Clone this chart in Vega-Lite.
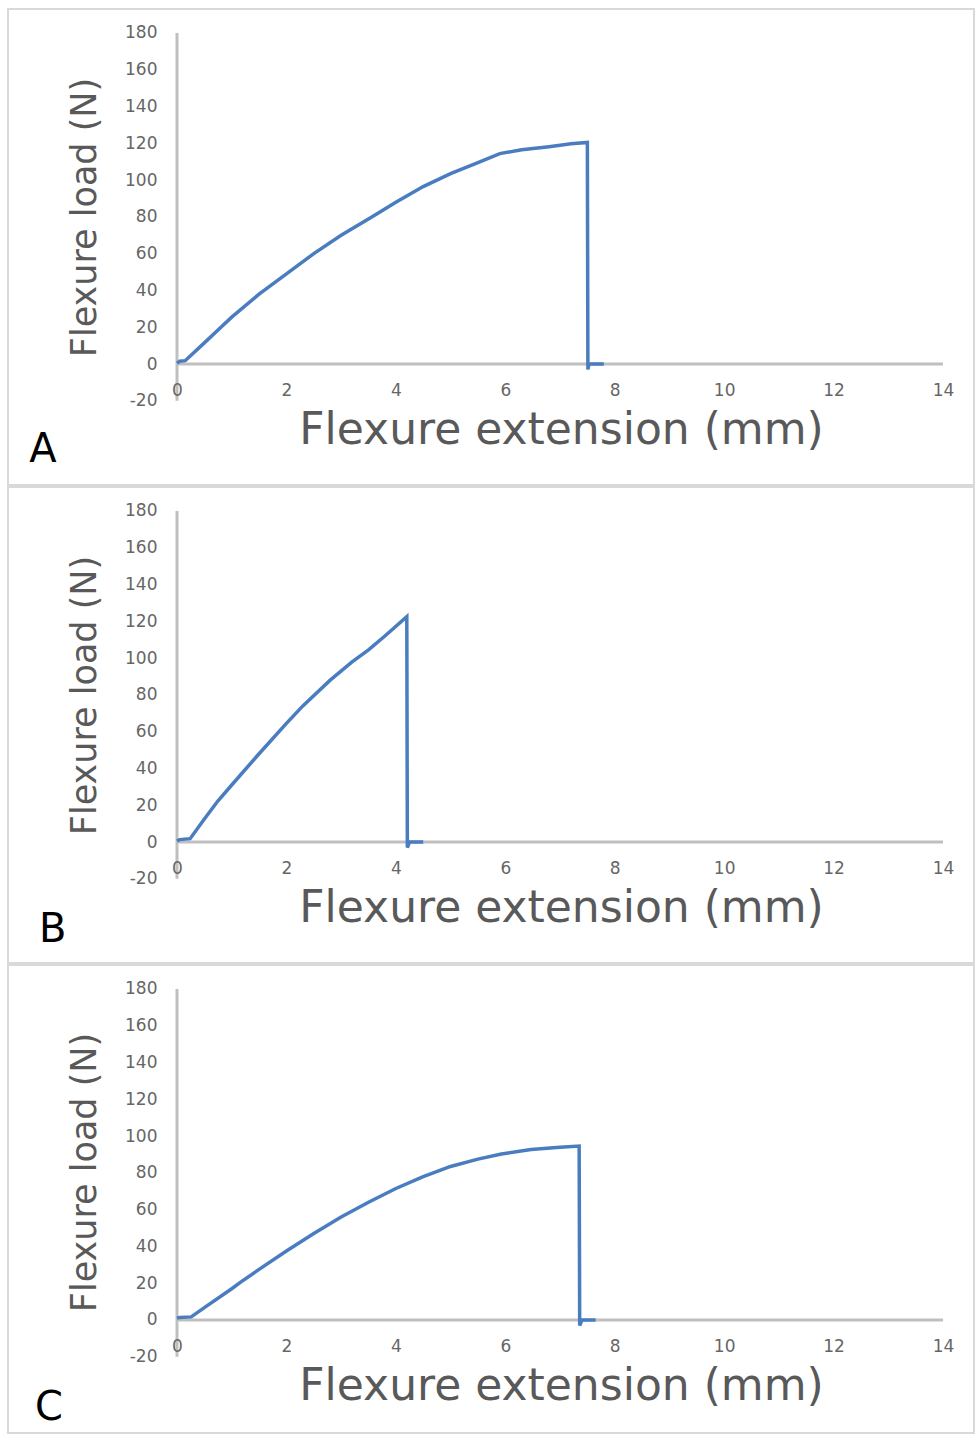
{
  "$schema": "https://vega.github.io/schema/vega-lite/v6.json",
  "background": "white",
  "padding": {"left": 7, "top": 8, "right": 0, "bottom": 0},
  "autosize": {"type": "pad"},
  "spacing": 0,
  "resolve": {"scale": {"x": "independent", "y": "independent"}, "axis": {"x": "independent", "y": "independent"}},
  "config": {
    "view": {"stroke": "#d9d9d9", "strokeWidth": 2, "fill": "white"},
    "axis": {"grid": false, "ticks": false, "domain": false, "labelFont": "DejaVu Sans", "labelFontSize": 17, "labelColor": "#666666", "titleFont": "DejaVu Sans", "titleColor": "#595959", "titleFontWeight": "normal", "labelExpr": "datum.value + ''"}
  },
  "datasets": {
    "A": [
      {"i": 0, "extension": 0, "load": 0.5},
      {"i": 1, "extension": 0.05, "load": 1.5},
      {"i": 2, "extension": 0.15, "load": 1.8},
      {"i": 3, "extension": 0.5, "load": 11.5},
      {"i": 4, "extension": 0.73, "load": 18},
      {"i": 5, "extension": 1.0, "load": 25.5},
      {"i": 6, "extension": 1.5, "load": 38},
      {"i": 7, "extension": 2.0, "load": 49},
      {"i": 8, "extension": 2.5, "load": 60},
      {"i": 9, "extension": 3.0, "load": 70},
      {"i": 10, "extension": 3.56, "load": 80},
      {"i": 11, "extension": 4.0, "load": 88},
      {"i": 12, "extension": 4.5, "load": 96.5},
      {"i": 13, "extension": 5.0, "load": 103.5},
      {"i": 14, "extension": 5.5, "load": 109.5},
      {"i": 15, "extension": 5.9, "load": 114.4},
      {"i": 16, "extension": 6.3, "load": 116.5},
      {"i": 17, "extension": 6.8, "load": 118.2},
      {"i": 18, "extension": 7.2, "load": 119.8},
      {"i": 19, "extension": 7.5, "load": 120.5},
      {"i": 20, "extension": 7.51, "load": -3},
      {"i": 21, "extension": 7.53, "load": 0},
      {"i": 22, "extension": 7.8, "load": 0}
    ],
    "B": [
      {"i": 0, "extension": 0, "load": 0.5},
      {"i": 1, "extension": 0.05, "load": 1.3},
      {"i": 2, "extension": 0.24, "load": 1.8},
      {"i": 3, "extension": 0.5, "load": 12.5},
      {"i": 4, "extension": 0.75, "load": 22.4},
      {"i": 5, "extension": 1.0, "load": 31},
      {"i": 6, "extension": 1.5, "load": 48},
      {"i": 7, "extension": 2.0, "load": 64.5},
      {"i": 8, "extension": 2.3, "load": 74},
      {"i": 9, "extension": 2.8, "load": 88},
      {"i": 10, "extension": 3.2, "load": 98},
      {"i": 11, "extension": 3.5, "load": 104.5},
      {"i": 12, "extension": 3.8, "load": 112},
      {"i": 13, "extension": 4.2, "load": 122.5},
      {"i": 14, "extension": 4.21, "load": -3},
      {"i": 15, "extension": 4.25, "load": 0},
      {"i": 16, "extension": 4.5, "load": 0}
    ],
    "C": [
      {"i": 0, "extension": 0, "load": 1},
      {"i": 1, "extension": 0.05, "load": 1.4},
      {"i": 2, "extension": 0.26, "load": 1.7},
      {"i": 3, "extension": 0.5, "load": 6.7},
      {"i": 4, "extension": 1.0, "load": 17},
      {"i": 5, "extension": 1.17, "load": 20.7},
      {"i": 6, "extension": 1.5, "load": 27.5},
      {"i": 7, "extension": 2.0, "load": 37.5},
      {"i": 8, "extension": 2.5, "load": 47},
      {"i": 9, "extension": 3.0, "load": 56},
      {"i": 10, "extension": 3.5, "load": 64},
      {"i": 11, "extension": 4.0, "load": 71.5},
      {"i": 12, "extension": 4.5, "load": 78},
      {"i": 13, "extension": 5.0, "load": 83.5},
      {"i": 14, "extension": 5.5, "load": 87.5},
      {"i": 15, "extension": 5.93, "load": 90.3},
      {"i": 16, "extension": 6.47, "load": 92.7},
      {"i": 17, "extension": 7.0, "load": 94},
      {"i": 18, "extension": 7.35, "load": 94.6},
      {"i": 19, "extension": 7.36, "load": -3},
      {"i": 20, "extension": 7.4, "load": 0},
      {"i": 21, "extension": 7.65, "load": 0}
    ]
  },
  "vconcat": [
    {
      "width": 966, "height": 476,
      "layer": [
        {"data": {"values": [{}]}, "mark": {"type": "rule", "color": "#bfbfbf", "strokeWidth": 3}, "encoding": {"x": {"datum": 0, "type": "quantitative"}, "y": {"datum": -20, "type": "quantitative"}, "y2": {"datum": 180}}},
        {"data": {"values": [{}]}, "mark": {"type": "rule", "color": "#bfbfbf", "strokeWidth": 3}, "encoding": {"y": {"datum": 0, "type": "quantitative"}, "x": {"datum": 0, "type": "quantitative"}, "x2": {"datum": 14}}},
        {"data": {"name": "A"}, "mark": {"type": "line", "color": "#4a7cc0", "strokeWidth": 3.5},
          "encoding": {
            "x": {"field": "extension", "type": "quantitative", "scale": {"domain": [-3.0888, 14.5666], "nice": false, "zero": false},
              "axis": {"values": [0, 2, 4, 6, 8, 10, 12, 14], "offset": -121, "labelPadding": 18, "zindex": 1, "title": "Flexure extension (mm)", "titleFontSize": 44, "titlePadding": 10, "titleX": 553}},
            "y": {"field": "load", "type": "quantitative", "scale": {"domain": [-65.8, 193.05], "nice": false, "zero": false},
              "axis": {"values": [-20, 0, 20, 40, 60, 80, 100, 120, 140, 160, 180], "offset": -169, "labelPadding": 20, "title": "Flexure load (N)", "titleFontSize": 35, "titlePadding": 22, "titleY": 208}},
            "order": {"field": "i", "type": "quantitative"}
          }},
        {"data": {"values": [{}]}, "mark": {"type": "text", "font": "DejaVu Sans", "fontSize": 40, "color": "black", "align": "center", "baseline": "alphabetic", "text": "A"},
          "encoding": {"x": {"datum": -2.45, "type": "quantitative"}, "y": {"datum": -53.3, "type": "quantitative"}}}
      ]
    },
    {
      "width": 966, "height": 476,
      "layer": [
        {"data": {"values": [{}]}, "mark": {"type": "rule", "color": "#bfbfbf", "strokeWidth": 3}, "encoding": {"x": {"datum": 0, "type": "quantitative"}, "y": {"datum": -20, "type": "quantitative"}, "y2": {"datum": 180}}},
        {"data": {"values": [{}]}, "mark": {"type": "rule", "color": "#bfbfbf", "strokeWidth": 3}, "encoding": {"y": {"datum": 0, "type": "quantitative"}, "x": {"datum": 0, "type": "quantitative"}, "x2": {"datum": 14}}},
        {"data": {"name": "B"}, "mark": {"type": "line", "color": "#4a7cc0", "strokeWidth": 3.5},
          "encoding": {
            "x": {"field": "extension", "type": "quantitative", "scale": {"domain": [-3.0888, 14.5666], "nice": false, "zero": false},
              "axis": {"values": [0, 2, 4, 6, 8, 10, 12, 14], "offset": -121, "labelPadding": 18, "zindex": 1, "title": "Flexure extension (mm)", "titleFontSize": 44, "titlePadding": 10, "titleX": 553}},
            "y": {"field": "load", "type": "quantitative", "scale": {"domain": [-65.8, 193.05], "nice": false, "zero": false},
              "axis": {"values": [-20, 0, 20, 40, 60, 80, 100, 120, 140, 160, 180], "offset": -169, "labelPadding": 20, "title": "Flexure load (N)", "titleFontSize": 35, "titlePadding": 22, "titleY": 208}},
            "order": {"field": "i", "type": "quantitative"}
          }},
        {"data": {"values": [{}]}, "mark": {"type": "text", "font": "DejaVu Sans", "fontSize": 40, "color": "black", "align": "center", "baseline": "alphabetic", "text": "B"},
          "encoding": {"x": {"datum": -2.27, "type": "quantitative"}, "y": {"datum": -54.2, "type": "quantitative"}}}
      ]
    },
    {
      "width": 966, "height": 468,
      "layer": [
        {"data": {"values": [{}]}, "mark": {"type": "rule", "color": "#bfbfbf", "strokeWidth": 3}, "encoding": {"x": {"datum": 0, "type": "quantitative"}, "y": {"datum": -20, "type": "quantitative"}, "y2": {"datum": 180}}},
        {"data": {"values": [{}]}, "mark": {"type": "rule", "color": "#bfbfbf", "strokeWidth": 3}, "encoding": {"y": {"datum": 0, "type": "quantitative"}, "x": {"datum": 0, "type": "quantitative"}, "x2": {"datum": 14}}},
        {"data": {"name": "C"}, "mark": {"type": "line", "color": "#4a7cc0", "strokeWidth": 3.5},
          "encoding": {
            "x": {"field": "extension", "type": "quantitative", "scale": {"domain": [-3.0888, 14.5666], "nice": false, "zero": false},
              "axis": {"values": [0, 2, 4, 6, 8, 10, 12, 14], "offset": -113, "labelPadding": 18, "zindex": 1, "title": "Flexure extension (mm)", "titleFontSize": 44, "titlePadding": 10, "titleX": 553}},
            "y": {"field": "load", "type": "quantitative", "scale": {"domain": [-61.45, 193.05], "nice": false, "zero": false},
              "axis": {"values": [-20, 0, 20, 40, 60, 80, 100, 120, 140, 160, 180], "offset": -169, "labelPadding": 20, "title": "Flexure load (N)", "titleFontSize": 35, "titlePadding": 22, "titleY": 207}},
            "order": {"field": "i", "type": "quantitative"}
          }},
        {"data": {"values": [{}]}, "mark": {"type": "text", "font": "DejaVu Sans", "fontSize": 40, "color": "black", "align": "center", "baseline": "alphabetic", "text": "C"},
          "encoding": {"x": {"datum": -2.34, "type": "quantitative"}, "y": {"datum": -54.4, "type": "quantitative"}}}
      ]
    }
  ]
}
